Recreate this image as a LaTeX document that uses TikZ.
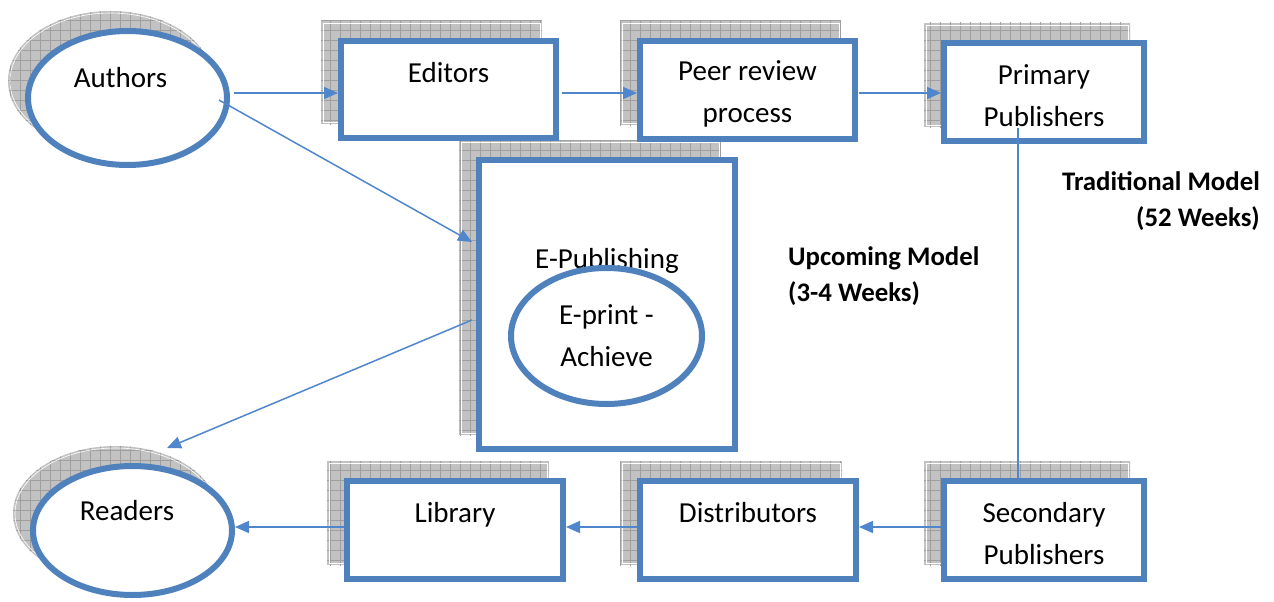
\documentclass[tikz,border=0pt]{standalone}
\usepackage{fontspec}
\setmainfont{Carlito}
\usetikzlibrary{arrows.meta,shapes.geometric,calc}
\definecolor{boxblue}{HTML}{4F81BD}
\definecolor{linkblue}{HTML}{4F86CC}
\pgfdeclarelayer{background}
\pgfsetlayers{background,main}

\tikzset{
  boxtext/.style={font=\fontsize{29}{42}\selectfont, align=center, text=black},
  stage/.style={boxtext, rectangle, draw=boxblue, line width=6pt, fill=white, inner sep=0pt, text height=69pt},
  oval/.style={boxtext, ellipse, draw=boxblue, line width=6pt, fill=white, inner sep=0pt},
  shadowfill/.style={fill=gray!48,
    path picture={\draw[gray!75, line width=0.7pt]
      ([shift={(-10,10)}]path picture bounding box.south west) grid[step=10pt]
      ([shift={(10,-10)}]path picture bounding box.north east);}},
  shadowrim/.style={draw=white, line width=0.6pt},
  conn/.style={draw=linkblue, line width=1.5pt, -{Triangle[length=14pt,width=12pt]}},
  plainlink/.style={draw=linkblue, line width=1.5pt},
  note/.style={font=\bfseries\fontsize{26.8}{36}\selectfont, inner sep=0pt}
}

% grey hatched shadow behind a box, offset up and to the left
\newcommand\boxshade[1]{%
  \path[shadowfill] ([shift={(-17,-17)}]#1.south west) rectangle ([shift={(-17,-17)}]#1.north east);
  \path[shadowrim] ([shift={(-15,-19)}]#1.south west) rectangle ([shift={(-19,-15)}]#1.north east);}
% the same for an oval
\newcommand\ovalshade[3]{%
  \path[shadowfill] ([shift={(-17,-17)}]#1.center) ellipse [x radius=#2pt, y radius=#3pt];
  \path[shadowrim] ([shift={(-17,-17)}]#1.center) ellipse [x radius=#2pt-2pt, y radius=#3pt-2pt];}

\begin{document}
\begin{tikzpicture}[x=1pt,y=-1pt]
\useasboundingbox (0,0) rectangle (1274,602);

% top row
\node[oval, minimum width=199pt, minimum height=134pt] (authors) at (127.5,98) {Authors\hspace*{14pt}\\\mbox{}};
\node[stage, minimum width=215pt, minimum height=97pt] (editors) at (448.5,89.5) {Editors\\\mbox{}};
\node[stage, minimum width=215pt, minimum height=98pt] (peer) at (747.5,90) {Peer review\\process};
\node[stage, minimum width=200pt, minimum height=98pt] (primary) at (1044,92) {Primary\\Publishers};

% electronic route
\node[stage, minimum width=256pt, minimum height=289pt] (epub) at (607,304.5) {};
\node[boxtext] (epubtext) at (607,261) {E-Publishing};
\node[oval, minimum width=191pt, minimum height=136pt] (eprint) at (606.5,336) {E-print -\\Achieve};

% bottom row
\node[oval, minimum width=199pt, minimum height=129pt] (readers) at (132.5,530.5) {Readers\hspace*{11pt}\\[-1pt]\mbox{}};
\node[stage, minimum width=216pt, minimum height=98pt] (library) at (455,530) {Library\\\mbox{}};
\node[stage, minimum width=216pt, minimum height=98pt] (distributors) at (748,530) {Distributors\\\mbox{}};
\node[stage, minimum width=200pt, minimum height=98pt] (secondary) at (1044,530) {Secondary\\Publishers};

% model labels
\node[note, anchor=east, align=right] (traditional) at (1260,201) {Traditional Model\\(52 Weeks)};
\node[note, anchor=west, align=left] (upcoming) at (788,276) {Upcoming Model\\(3-4 Weeks)};

% shadows
\begin{pgfonlayer}{background}
  \ovalshade{authors}{102.5}{70}
  \ovalshade{readers}{102.5}{67.5}
  \boxshade{editors}
  \boxshade{peer}
  \boxshade{primary}
  \boxshade{epub}
  \boxshade{library}
  \boxshade{distributors}
  \boxshade{secondary}
\end{pgfonlayer}

% connectors
\draw[conn] ([shift={(4,-5)}]authors.east) -- ([shift={(0,3.5)}]editors.west);
\draw[conn] ([shift={(3,3.5)}]editors.east) -- ([shift={(0,3)}]peer.west);
\draw[conn] ([shift={(1,3)}]peer.east) -- ([shift={(0,1)}]primary.west);
\draw[conn] ([shift={(91.5,2)}]authors.center) -- ([shift={(-4,-62.5)}]epub.west);
\draw[conn] ([shift={(-4,15.5)}]epub.west) -- ([shift={(34.5,-15)}]readers.north);
\draw[plainlink] ([shift={(-26,36)}]primary.center) -- ([shift={(-26,0)}]secondary.north);
\draw[conn] ([shift={(0,-3)}]secondary.west) -- ([shift={(0,-3)}]distributors.east);
\draw[conn] ([shift={(0,-3)}]distributors.west) -- ([shift={(0,-3)}]library.east);
\draw[conn] ([shift={(0,-3)}]library.west) -- ([shift={(0,-3.5)}]readers.east);
\end{tikzpicture}
\end{document}
